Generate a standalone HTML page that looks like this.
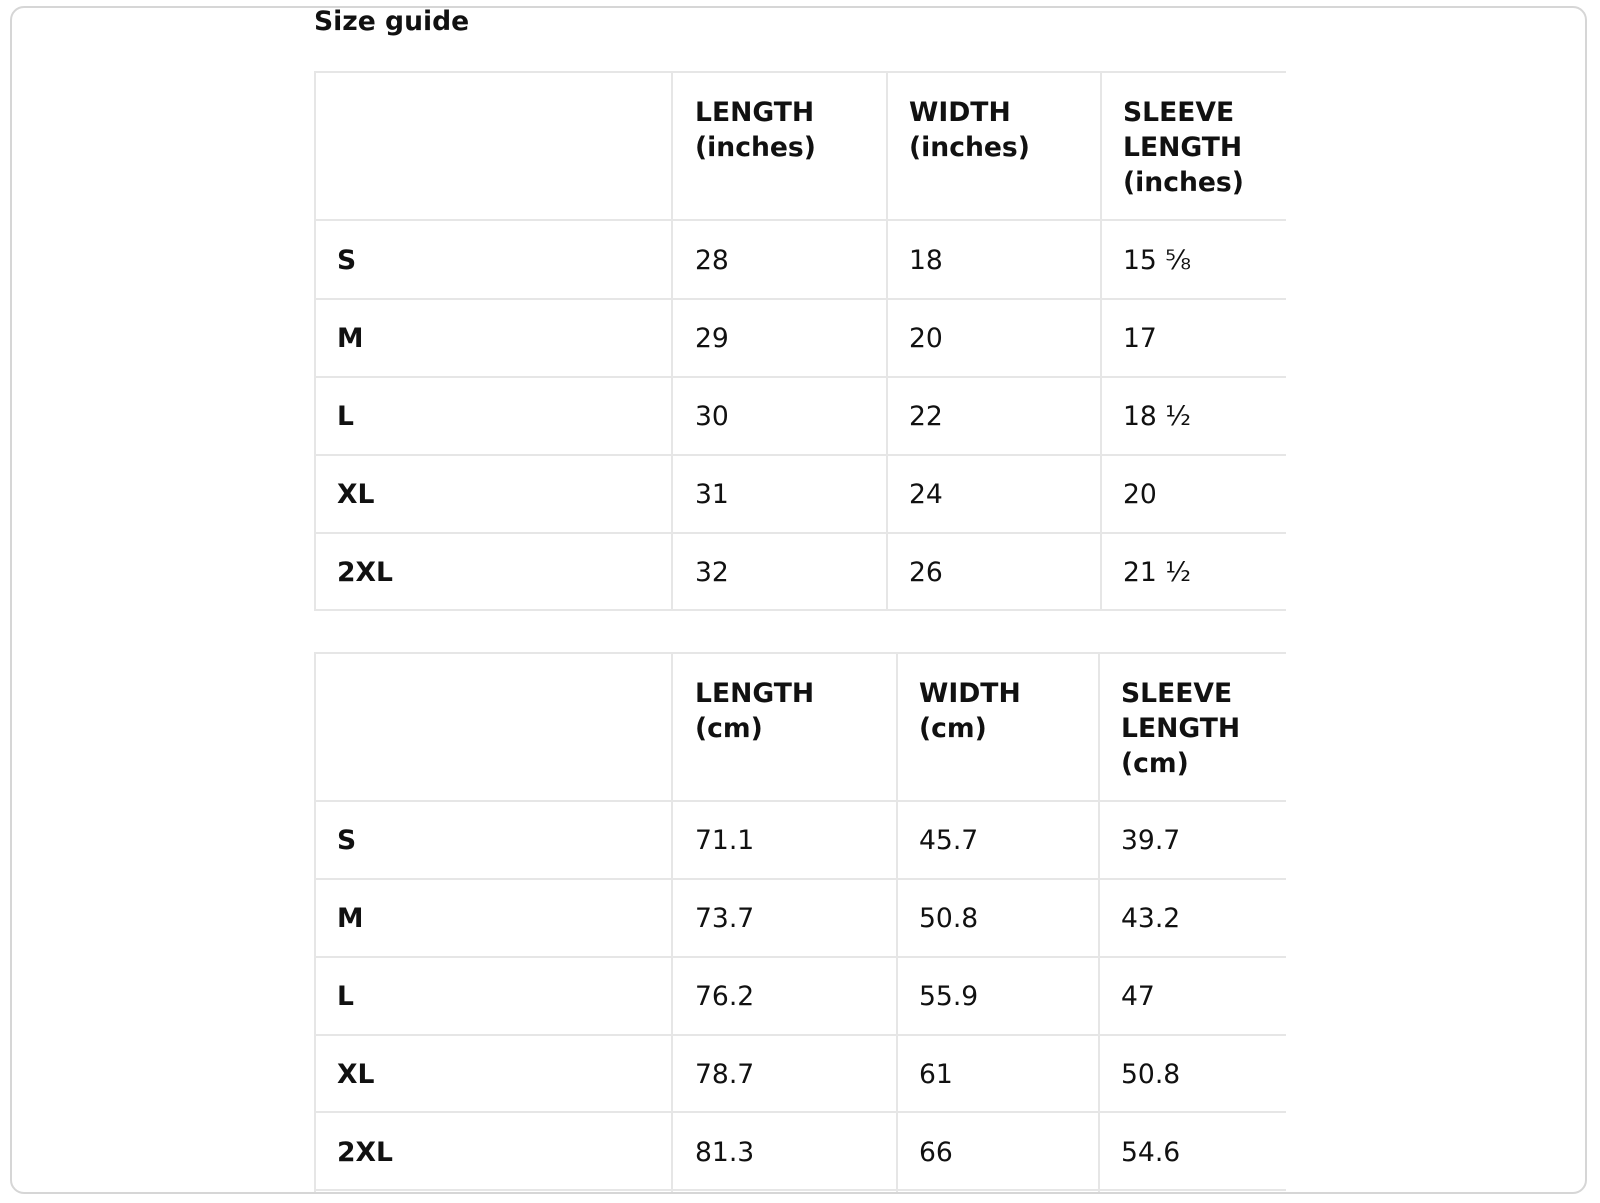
<!DOCTYPE html>
<html><head><meta charset="utf-8"><style>
html,body{margin:0;padding:0;background:#fff;width:1600px;height:1203px;overflow:hidden;}
body{position:relative;font-family:"DejaVu Sans","Liberation Sans",sans-serif;color:#111;}
.card{position:absolute;left:10px;top:6px;width:1577px;height:1188px;border:2px solid #d6d6d6;border-radius:14px;box-sizing:border-box;}
.t{position:absolute;font-size:26.6px;line-height:35px;white-space:nowrap;transform:translateY(1px);}
.b{font-weight:bold;}
.h{position:absolute;height:2px;background:#e6e6e6;}
.v{position:absolute;width:2px;background:#e6e6e6;}
</style></head><body>
<div class="card"></div>
<div class="t b" style="left:314px;top:3px;">Size guide</div>

<div class="h" style="left:314px;width:972px;top:71px"></div>
<div class="h" style="left:314px;width:972px;top:219px"></div>
<div class="h" style="left:314px;width:972px;top:298px"></div>
<div class="h" style="left:314px;width:972px;top:376px"></div>
<div class="h" style="left:314px;width:972px;top:454px"></div>
<div class="h" style="left:314px;width:972px;top:532px"></div>
<div class="h" style="left:314px;width:972px;top:609px"></div>
<div class="v" style="left:314px;top:71px;height:540px"></div>
<div class="v" style="left:671px;top:71px;height:540px"></div>
<div class="v" style="left:886px;top:71px;height:540px"></div>
<div class="v" style="left:1100px;top:71px;height:540px"></div>
<div class="t b" style="left:695px;top:94px">LENGTH<br>(inches)</div>
<div class="t b" style="left:909px;top:94px">WIDTH<br>(inches)</div>
<div class="t b" style="left:1123px;top:94px">SLEEVE<br>LENGTH<br>(inches)</div>

<div class="t b" style="left:337px;top:242px">S</div><div class="t" style="left:695px;top:242px">28</div><div class="t" style="left:909px;top:242px">18</div><div class="t" style="left:1123px;top:242px">15 ⅝</div>
<div class="t b" style="left:337px;top:320px">M</div><div class="t" style="left:695px;top:320px">29</div><div class="t" style="left:909px;top:320px">20</div><div class="t" style="left:1123px;top:320px">17</div>
<div class="t b" style="left:337px;top:398px">L</div><div class="t" style="left:695px;top:398px">30</div><div class="t" style="left:909px;top:398px">22</div><div class="t" style="left:1123px;top:398px">18 ½</div>
<div class="t b" style="left:337px;top:476px">XL</div><div class="t" style="left:695px;top:476px">31</div><div class="t" style="left:909px;top:476px">24</div><div class="t" style="left:1123px;top:476px">20</div>
<div class="t b" style="left:337px;top:554px">2XL</div><div class="t" style="left:695px;top:554px">32</div><div class="t" style="left:909px;top:554px">26</div><div class="t" style="left:1123px;top:554px">21 ½</div>

<div class="h" style="left:314px;width:972px;top:652px"></div>
<div class="h" style="left:314px;width:972px;top:800px"></div>
<div class="h" style="left:314px;width:972px;top:878px"></div>
<div class="h" style="left:314px;width:972px;top:956px"></div>
<div class="h" style="left:314px;width:972px;top:1034px"></div>
<div class="h" style="left:314px;width:972px;top:1111px"></div>
<div class="h" style="left:314px;width:972px;top:1189px"></div>
<div class="v" style="left:314px;top:652px;height:540px"></div>
<div class="v" style="left:671px;top:652px;height:540px"></div>
<div class="v" style="left:896px;top:652px;height:540px"></div>
<div class="v" style="left:1098px;top:652px;height:540px"></div>
<div class="t b" style="left:695px;top:675px">LENGTH<br>(cm)</div>
<div class="t b" style="left:919px;top:675px">WIDTH<br>(cm)</div>
<div class="t b" style="left:1121px;top:675px">SLEEVE<br>LENGTH<br>(cm)</div>

<div class="t b" style="left:337px;top:822px">S</div><div class="t" style="left:695px;top:822px">71.1</div><div class="t" style="left:919px;top:822px">45.7</div><div class="t" style="left:1121px;top:822px">39.7</div>
<div class="t b" style="left:337px;top:900px">M</div><div class="t" style="left:695px;top:900px">73.7</div><div class="t" style="left:919px;top:900px">50.8</div><div class="t" style="left:1121px;top:900px">43.2</div>
<div class="t b" style="left:337px;top:978px">L</div><div class="t" style="left:695px;top:978px">76.2</div><div class="t" style="left:919px;top:978px">55.9</div><div class="t" style="left:1121px;top:978px">47</div>
<div class="t b" style="left:337px;top:1056px">XL</div><div class="t" style="left:695px;top:1056px">78.7</div><div class="t" style="left:919px;top:1056px">61</div><div class="t" style="left:1121px;top:1056px">50.8</div>
<div class="t b" style="left:337px;top:1134px">2XL</div><div class="t" style="left:695px;top:1134px">81.3</div><div class="t" style="left:919px;top:1134px">66</div><div class="t" style="left:1121px;top:1134px">54.6</div>
</body></html>
